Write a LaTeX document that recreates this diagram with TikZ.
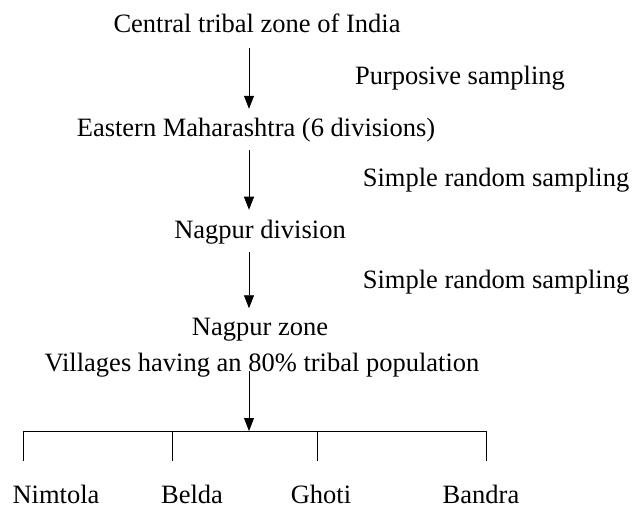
\documentclass[tikz,border=0pt]{standalone}
\usepackage{fontspec}
\setmainfont{Liberation Serif}
\usetikzlibrary{arrows.meta}

\begin{document}
\begin{tikzpicture}[x=1pt,y=-1pt,
		lbl/.style={inner sep=2pt, font=\rmfamily\fontsize{26.5}{30}\selectfont},
		flow/.style={-{Triangle[width=10pt,length=13pt]}, line width=0.8pt}]
		\useasboundingbox (0,0) rectangle (636,508);
		\coordinate (axis) at (249,0);
		\node[lbl] (central) at (257,23) {Central tribal zone of India};
		\node[lbl] (purp) at (460,78) {Purposive sampling};
		\node[lbl] (eastern) at (256,130) {Eastern Maharashtra (6 divisions)};
		\node[lbl] (srs1) at (496,180) {Simple random sampling};
		\node[lbl] (division) at (260,232) {Nagpur division};
		\node[lbl] (srs2) at (496,282) {Simple random sampling};
		\node[lbl] (zone) at (260,330) {Nagpur zone};
		\node[lbl] (villages) at (262,365) {Villages having an 80\% tribal population};
		\node[lbl, inner sep=1pt] (nimtola) at (56,494) {Nimtola};
		\node[lbl, inner sep=1pt] (belda) at (192,494) {Belda};
		\node[lbl, inner sep=1pt] (ghoti) at (321,494) {Ghoti};
		\node[lbl, inner sep=1pt] (bandra) at (481,494) {Bandra};
		\draw[flow, shorten >=7pt] (central.south -| axis) ++(0,13) to (eastern.north -| axis);
		\draw[flow, shorten >=8pt] (eastern.south -| axis) ++(0,6) to (division.north -| axis);
		\draw[flow, shorten >=8pt] (division.south -| axis) ++(0,6) to (zone.north -| axis);
		\foreach \i/\x in {1/23,2/172,3/317,4/486} {
			\coordinate (top\i) at (\x,431);
			\coordinate (foot\i) at (\x,461);
			\draw[line width=0.8pt] (top\i) to (foot\i);
		}
		\draw[line width=0.8pt] (top1) to (top4);
		\draw[flow] (villages.base -| axis) to (top1 -| axis);
	\end{tikzpicture}
\end{document}
